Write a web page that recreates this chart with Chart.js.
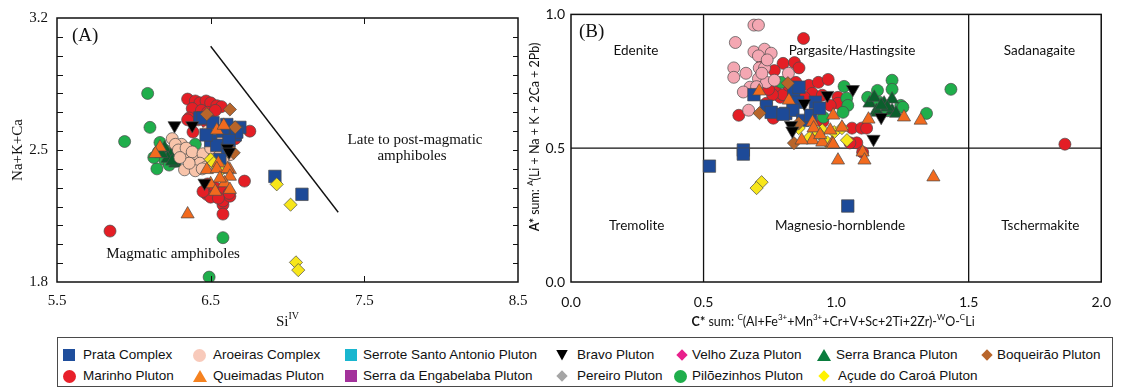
<!DOCTYPE html>
<html>
<head>
<meta charset="utf-8">
<script src="https://cdn.jsdelivr.net/npm/chart.js@4.4.1/dist/chart.umd.min.js"></script>
<style>
  html, body { margin: 0; padding: 0; background: #fff; }
  body { width: 1123px; height: 388px; position: relative; overflow: hidden; }
  canvas { position: absolute; top: 0; }
  #cA { left: 0; }
  #cB { left: 525px; }
  #legend { position: absolute; left: 57px; top: 337px; width: 1056px; height: 50px;
            border: 1.5px solid #4a4a4a; box-sizing: border-box; }
  .li { position: absolute; font: 13.5px 'Liberation Sans', Arial, sans-serif; color: #111;
        white-space: nowrap; line-height: 16px; }
  .mk { position: absolute; box-sizing: border-box; }
</style>
</head>
<body>
<canvas id="cA" width="540" height="335"></canvas>
<canvas id="cB" width="598" height="335"></canvas>
<div id="legend"></div>
<script>
// ---------- Panel A: Si(IV) vs Na+K+Ca ----------
const siTicks = [5.5, 6.5, 7.5, 8.5];
const naTicks = [1.8, 2.5, 3.2];
const naMinorTicks = [1.9, 2.0, 2.1, 2.2, 2.3, 2.4, 2.5, 2.6, 2.7, 2.8, 2.9, 3.0, 3.1];
const siInnerTicks = [6.5, 7.5];
const boundaryA = [[6.5, 3.05], [7.33, 2.17]];

const prataA = [[6.43,2.67],[6.45,2.67],[6.515,2.645],[6.605,2.635],[6.69,2.62],[6.66,2.58],[6.50,2.55],
  [6.54,2.525],[6.61,2.505],[6.56,2.45],[6.67,2.595],[6.58,2.60],[6.918,2.36],[7.094,2.265],[6.47,2.58],[6.62,2.55]];
const aroeirasA = [[6.25,2.56],[6.31,2.53],[6.35,2.47],[6.41,2.45],[6.48,2.60],[6.515,2.525],[6.625,2.475],
  [6.385,2.42],[6.33,2.395],[6.27,2.53],[6.29,2.50],[6.34,2.51],[6.38,2.49],[6.45,2.48],[6.43,2.43],[6.47,2.41],
  [6.52,2.46],[6.56,2.50],[6.60,2.52],[6.58,2.44],[6.40,2.39],[6.36,2.43],[6.30,2.46],[6.54,2.56],[6.50,2.51],[6.445,2.40]];
const bravoA = [[6.265,2.63],[6.38,2.63],[6.61,2.51],[6.46,2.325],[6.62,2.49]];
const serraBrancaA = [[6.20,2.51],[6.24,2.47],[6.27,2.43],[6.22,2.455],[6.25,2.44],[6.18,2.48]];
const boqueiraoA = [[6.625,2.715],[6.475,2.69],[6.66,2.62],[6.65,2.485]];
const marinhoA = [[6.35,2.77],[6.40,2.76],[6.43,2.75],[6.47,2.76],[6.50,2.75],[6.54,2.735],[6.57,2.73],[6.38,2.72],
  [6.44,2.71],[6.48,2.70],[6.53,2.71],[6.36,2.67],[6.42,2.66],[6.475,2.645],[6.51,2.65],[6.35,2.66],[6.385,2.595],
  [6.755,2.60],[6.72,2.335],[6.58,2.21],[6.58,2.16],[6.58,2.23],[5.845,2.07],[6.475,2.265],[6.625,2.255],[6.48,2.32],
  [6.53,2.30],[6.58,2.28],[6.62,2.27],[6.50,2.25],[6.55,2.245],[6.45,2.28],[6.60,2.60],[6.66,2.56]];
const queimadasA = [[6.17,2.515],[6.14,2.48],[6.54,2.605],[6.585,2.63],[6.55,2.43],[6.625,2.395],[6.475,2.395],
  [6.54,2.40],[6.61,2.40],[6.625,2.36],[6.50,2.32],[6.59,2.325],[6.53,2.28],[6.625,2.29],[6.35,2.16],[6.56,2.35]];
const piloezinhosA = [[6.09,2.80],[6.105,2.62],[5.94,2.545],[6.15,2.40],[6.58,2.035],[6.49,1.826],[6.17,2.54],
  [6.20,2.50],[6.16,2.49],[6.24,2.48],[6.20,2.45],[6.27,2.44],[6.23,2.42],[6.40,2.53],[6.13,2.46]];
const acudeA = [[6.93,2.318],[7.02,2.21],[7.055,1.904],[7.07,1.863],[6.575,2.40],[6.50,2.45],[6.52,2.43]];

// ---------- Panel B: C* sum vs A* sum ----------
const cTicks = [0, 0.5, 1.0, 1.5, 2.0];
const aTicks = [0, 0.5, 1.0];
const dividerV1 = [[0.5, 0], [0.5, 1]];
const dividerV2 = [[1.5, 0], [1.5, 1]];
const dividerH = [[0, 0.5], [2, 0.5]];

const prataB = [[0.69,0.70],[0.84,0.716],[0.86,0.728],[0.855,0.672],[0.737,0.657],[0.755,0.634],[0.81,0.63],
  [0.837,0.642],[0.874,0.604],[0.904,0.623],[0.922,0.672],[0.937,0.649],[0.65,0.493],[0.65,0.478],[0.522,0.433],
  [1.044,0.284],[0.80,0.627]];
const aroeirasB = [[0.69,0.96],[0.707,0.96],[0.62,0.895],[0.69,0.86],[0.73,0.87],[0.755,0.855],[0.707,0.845],
  [0.614,0.80],[0.614,0.765],[0.66,0.78],[0.71,0.80],[0.73,0.80],[0.707,0.76],[0.737,0.746],[0.767,0.754],
  [0.82,0.78],[0.675,0.728],[0.65,0.71],[0.67,0.642],[0.70,0.73],[0.74,0.83],[0.72,0.78]];
const bravoB = [[0.83,0.586],[0.835,0.565],[0.88,0.668],[0.967,0.698],[1.063,0.72],[1.141,0.534],[1.17,0.616]];
const serraBrancaB = [[1.126,0.668],[1.152,0.64],[1.181,0.668],[1.211,0.683],[1.211,0.64],[1.226,0.63],
  [1.156,0.634],[1.193,0.653],[1.144,0.69],[1.17,0.66]];
const boqueiraoB = [[0.711,0.631],[0.818,0.743],[0.859,0.593],[0.841,0.519]];
const marinhoB = [[0.877,0.91],[0.80,0.817],[0.843,0.82],[0.86,0.80],[0.767,0.79],[0.72,0.81],[0.774,0.71],
  [0.79,0.69],[0.80,0.70],[0.848,0.746],[0.897,0.735],[0.933,0.746],[0.97,0.757],[0.91,0.705],[0.948,0.698],
  [1.007,0.69],[1.007,0.668],[0.978,0.66],[0.737,0.668],[0.763,0.612],[0.633,0.623],[1.06,0.575],[1.096,0.575],
  [1.078,0.52],[1.052,0.52],[1.863,0.515],[1.115,0.575],[1.10,0.485],[0.88,0.69],[0.76,0.70],[0.82,0.735],
  [0.95,0.60],[0.745,0.72]];
const queimadasB = [[0.71,0.713],[0.822,0.679],[0.911,0.597],[0.915,0.575],[0.911,0.53],[0.948,0.522],
  [0.989,0.623],[1.022,0.578],[0.978,0.567],[0.985,0.519],[1.007,0.455],[1.10,0.485],[1.107,0.455],[1.122,0.608],
  [1.256,0.616],[1.319,0.604],[1.367,0.392],[0.989,0.515],[0.94,0.55],[0.87,0.53]];
const piloezinhosB = [[0.793,0.746],[1.03,0.731],[1.04,0.687],[1.044,0.66],[1.026,0.634],[0.952,0.616],
  [1.119,0.69],[1.156,0.716],[1.211,0.754],[1.211,0.72],[1.244,0.66],[1.341,0.63],[1.433,0.72],[1.163,0.672],
  [1.193,0.64],[1.252,0.653]];
const acudeB = [[0.719,0.373],[0.70,0.351],[0.948,0.567],[0.933,0.556],[0.967,0.522],[0.993,0.56],[1.022,0.575],
  [1.041,0.53],[0.859,0.575],[0.90,0.54]];

// ---------- Series appearance ----------
const series = {
  prata:       { name: 'Prata Complex',               shape: 'rect',    fill: '#1d4a98', key: '#1f4e9c' },
  aroeiras:    { name: 'Aroeiras Complex',            shape: 'circle',  fill: '#f8c4aa', fillB: '#f4a7b2', key: '#f8cabb' },
  serrote:     { name: 'Serrote Santo Antonio Pluton', shape: 'rect',   fill: '#19b6cf', key: '#19b6cf' },
  bravo:       { name: 'Bravo Pluton',                shape: 'triDown', fill: '#000000', key: '#000000' },
  velhoZuza:   { name: 'Velho Zuza Pluton',           shape: 'diamond', fill: '#e8208c', key: '#e8208c' },
  serraBranca: { name: 'Serra Branca Pluton',         shape: 'triangle',fill: '#0b5f2c', key: '#0a7c3e' },
  boqueirao:   { name: 'Boqueirão Pluton',            shape: 'diamond', fill: '#b8652a', key: '#b8652a' },
  marinho:     { name: 'Marinho Pluton',              shape: 'circle',  fill: '#e41e25', key: '#e8202a' },
  queimadas:   { name: 'Queimadas Pluton',            shape: 'triangle',fill: '#f26a1e', key: '#f58220' },
  engabelaba:  { name: 'Serra da Engabelaba Pluton',  shape: 'rect',    fill: '#a3329b', key: '#a3329b' },
  pereiro:     { name: 'Pereiro Pluton',              shape: 'diamond', fill: '#a5a5a5', key: '#a5a5a5' },
  piloezinhos: { name: 'Pilõezinhos Pluton',          shape: 'circle',  fill: '#1fae4b', key: '#1fae4b' },
  acude:       { name: 'Açude do Caroá Pluton',       shape: 'diamond', fill: '#f7e61a', key: '#fff200' }
};

const shapeStyle = {
  rect:     { pointStyle: 'rect',     radius: 8.8, rotation: 0 },
  circle:   { pointStyle: 'circle',   radius: 6,   rotation: 0 },
  triangle: { pointStyle: 'triangle', radius: 7.6, rotation: 0 },
  triDown:  { pointStyle: 'triangle', radius: 7.6, rotation: 180 },
  diamond:  { pointStyle: 'rectRot',  radius: 6.6, rotation: 0 }
};

function scatterSet(key, pts, z, panel) {
  const s = series[key];
  const st = shapeStyle[s.shape];
  const color = (panel === 'B' && s.fillB) ? s.fillB : s.fill;
  return {
    type: 'scatter',
    label: s.name,
    data: pts.map(([x, y]) => ({ x, y })),
    order: z,
    pointStyle: st.pointStyle,
    rotation: st.rotation,
    radius: st.radius,
    hoverRadius: st.radius,
    backgroundColor: color,
    borderColor: '#4a4a4a',
    borderWidth: 0.7
  };
}

function lineSet(pts, z, width) {
  return {
    type: 'line',
    data: pts.map(([x, y]) => ({ x, y })),
    order: z,
    borderColor: '#111',
    borderWidth: width,
    pointRadius: 0,
    fill: false,
    tension: 0
  };
}

// Draws a run of text pieces (normal / bold / superscript) centred on (x, y)
function drawRich(ctx, parts, x, y, size, family, rot) {
  ctx.save();
  ctx.translate(x, y);
  if (rot) ctx.rotate(rot);
  ctx.fillStyle = '#111';
  ctx.textBaseline = 'middle';
  ctx.textAlign = 'left';
  const fontOf = p => {
    if (p[1] === 'sup') return `${Math.round(size * 0.66)}px ${family}`;
    if (p[1] === 'b') return `bold ${size}px ${family}`;
    return `${size}px ${family}`;
  };
  let total = 0;
  const w = parts.map(p => { ctx.font = fontOf(p); const m = ctx.measureText(p[0]).width; total += m; return m; });
  let cx = -total / 2;
  parts.forEach((p, i) => {
    ctx.font = fontOf(p);
    ctx.fillText(p[0], cx, p[1] === 'sup' ? -size * 0.36 : 0);
    cx += w[i];
  });
  ctx.restore();
}

function fixedTicks(values) {
  return scale => { scale.ticks = values.map(v => ({ value: v })); };
}

const SERIF = "'Liberation Serif', 'Times New Roman', serif";
const SANS = "Lato, 'Open Sans', sans-serif";

// ---------- Panel A decorations ----------
const panelAFrame = {
  id: 'panelAFrame',
  afterDatasetsDraw(chart) {
    const { ctx, chartArea: a, scales: { x, y } } = chart;
    ctx.save();
    ctx.strokeStyle = '#111';
    ctx.lineWidth = 1.5;
    ctx.strokeRect(a.left, a.top, a.right - a.left, a.bottom - a.top);
    ctx.lineWidth = 1;
    ctx.beginPath();
    naMinorTicks.forEach(v => {
      const py = Math.round(y.getPixelForValue(v)) + 0.5;
      ctx.moveTo(a.left, py); ctx.lineTo(a.left + 6, py);
      ctx.moveTo(a.right, py); ctx.lineTo(a.right - 5, py);
    });
    siInnerTicks.forEach(v => {
      const px = Math.round(x.getPixelForValue(v)) + 0.5;
      ctx.moveTo(px, a.top); ctx.lineTo(px, a.top + 6);
      ctx.moveTo(px, a.bottom); ctx.lineTo(px, a.bottom - 6);
    });
    ctx.stroke();

    ctx.fillStyle = '#111';
    ctx.textAlign = 'left';
    ctx.textBaseline = 'middle';
    ctx.font = `19px ${SERIF}`;
    ctx.fillText('(A)', a.left + 15, a.top + 18);

    ctx.textAlign = 'center';
    ctx.font = `15px ${SERIF}`;
    ctx.fillText('Late to post-magmatic', x.getPixelForValue(7.83), y.getPixelForValue(2.552));
    ctx.fillText('amphiboles', x.getPixelForValue(7.81), y.getPixelForValue(2.468));
    ctx.fillText('Magmatic amphiboles', x.getPixelForValue(6.255), y.getPixelForValue(1.946));
    ctx.restore();

    drawRich(ctx, [['Si', ''], ['IV', 'sup']], (a.left + a.right) / 2, 322, 15, SERIF, 0);
    drawRich(ctx, [['Na+K+Ca', '']], 18, (a.top + a.bottom) / 2, 15, SERIF, -Math.PI / 2);
  }
};

new Chart(document.getElementById('cA'), {
  data: {
    datasets: [
      scatterSet('bravo', bravoA, 0),
      scatterSet('queimadas', queimadasA, 1),
      scatterSet('boqueirao', boqueiraoA, 2),
      scatterSet('acude', acudeA, 3),
      scatterSet('prata', prataA, 4),
      scatterSet('aroeiras', aroeirasA, 5),
      scatterSet('serraBranca', serraBrancaA, 6),
      scatterSet('piloezinhos', piloezinhosA, 7),
      scatterSet('marinho', marinhoA, 8),
      lineSet(boundaryA, 9, 1.4)
    ]
  },
  options: {
    responsive: false,
    animation: false,
    devicePixelRatio: 1,
    layout: { padding: { left: 0, top: 14, right: 22, bottom: 0 } },
    plugins: { legend: { display: false }, tooltip: { enabled: false } },
    scales: {
      x: {
        type: 'linear', min: 5.5, max: 8.5,
        afterBuildTicks: fixedTicks(siTicks),
        afterFit: s => { s.height = 53; },
        grid: { display: false, drawTicks: false },
        border: { display: false },
        ticks: { padding: 10, color: '#111', font: { family: SERIF, size: 15 }, callback: v => v.toFixed(1) }
      },
      y: {
        type: 'linear', min: 1.8, max: 3.2,
        afterBuildTicks: fixedTicks(naTicks),
        afterFit: s => { s.width = 57; },
        grid: { display: false, drawTicks: false },
        border: { display: false },
        ticks: { padding: 9, color: '#111', font: { family: SERIF, size: 15 }, callback: v => v.toFixed(1) }
      }
    }
  },
  plugins: [panelAFrame]
});

// ---------- Panel B decorations ----------
const panelBFrame = {
  id: 'panelBFrame',
  afterDatasetsDraw(chart) {
    const { ctx, chartArea: a, scales: { x, y } } = chart;
    ctx.save();
    ctx.strokeStyle = '#111';
    ctx.lineWidth = 1.5;
    ctx.strokeRect(a.left, a.top, a.right - a.left, a.bottom - a.top);

    ctx.fillStyle = '#111';
    ctx.textAlign = 'left';
    ctx.textBaseline = 'middle';
    ctx.font = `19px ${SERIF}`;
    ctx.fillText('(B)', a.left + 8, a.top + 18);

    ctx.textAlign = 'center';
    ctx.font = `13.5px ${SANS}`;
    const top = 0.866, bottom = 0.209;
    ctx.fillText('Edenite', x.getPixelForValue(0.245), y.getPixelForValue(top));
    ctx.fillText('Pargasite/Hastingsite', x.getPixelForValue(1.06), y.getPixelForValue(top));
    ctx.fillText('Sadanagaite', x.getPixelForValue(1.767), y.getPixelForValue(top));
    ctx.fillText('Tremolite', x.getPixelForValue(0.248), y.getPixelForValue(bottom));
    ctx.fillText('Magnesio-hornblende', x.getPixelForValue(1.015), y.getPixelForValue(bottom));
    ctx.fillText('Tschermakite', x.getPixelForValue(1.77), y.getPixelForValue(bottom));
    ctx.restore();

    drawRich(ctx, [['C*', 'b'], [' sum: ', ''], ['C', 'sup'], ['(Al+Fe', ''], ['3+', 'sup'], ['+Mn', ''], ['3+', 'sup'],
      ['+Cr+V+Sc+2Ti+2Zr)-', ''], ['W', 'sup'], ['O-', ''], ['C', 'sup'], ['Li', '']],
      (a.left + a.right) / 2 - 3, 322, 12.5, SANS, 0);
    drawRich(ctx, [['A*', 'b'], [' sum: ', ''], ['A', 'sup'], ['(Li + Na + K + 2Ca + 2Pb)', '']],
      10, 137, 12.5, SANS, -Math.PI / 2);
  }
};

new Chart(document.getElementById('cB'), {
  data: {
    datasets: [
      scatterSet('bravo', bravoB, 0, 'B'),
      scatterSet('queimadas', queimadasB, 1, 'B'),
      scatterSet('boqueirao', boqueiraoB, 2, 'B'),
      scatterSet('acude', acudeB, 3, 'B'),
      scatterSet('prata', prataB, 4, 'B'),
      scatterSet('aroeiras', aroeirasB, 5, 'B'),
      scatterSet('serraBranca', serraBrancaB, 6, 'B'),
      scatterSet('piloezinhos', piloezinhosB, 7, 'B'),
      scatterSet('marinho', marinhoB, 8, 'B'),
      lineSet(dividerV1, 9, 1.3),
      lineSet(dividerV2, 9, 1.3),
      lineSet(dividerH, 9, 1.3)
    ]
  },
  options: {
    responsive: false,
    animation: false,
    devicePixelRatio: 1,
    layout: { padding: { left: 0, top: 14, right: 12, bottom: 0 } },
    plugins: { legend: { display: false }, tooltip: { enabled: false } },
    scales: {
      x: {
        type: 'linear', min: 0, max: 2,
        afterBuildTicks: fixedTicks(cTicks),
        afterFit: s => { s.height = 53; },
        grid: { display: false, drawTicks: false },
        border: { display: false },
        ticks: { padding: 12, color: '#111', font: { family: SANS, size: 14 }, callback: v => v.toFixed(1) }
      },
      y: {
        type: 'linear', min: 0, max: 1,
        afterBuildTicks: fixedTicks(aTicks),
        afterFit: s => { s.width = 46; },
        grid: { display: false, drawTicks: false },
        border: { display: false },
        ticks: { padding: 6, color: '#111', font: { family: SANS, size: 14 }, callback: v => v.toFixed(1) }
      }
    }
  },
  plugins: [panelBFrame]
});

// ---------- Shared legend ----------
const legendRow1 = ['prata', 'aroeiras', 'serrote', 'bravo', 'velhoZuza', 'serraBranca', 'boqueirao'];
const legendRow2 = ['marinho', 'queimadas', 'engabelaba', 'pereiro', 'piloezinhos', 'acude'];
const legendCols1 = [[69, 83], [199, 213], [351, 363], [562, 577], [682, 692], [824, 836], [987, 997]];
const legendCols2 = [[69, 83], [200, 213], [351, 363], [562, 577], [680, 692], [824, 838]];
const legendRowY = [355, 376];

function addKey(key, mx, tx, cy) {
  const s = series[key];
  const m = document.createElement('div');
  m.className = 'mk';
  let w = 12, h = 12, css = '';
  if (s.shape === 'circle') { w = 13; h = 13; css = 'border-radius:50%;'; }
  else if (s.shape === 'triangle') { w = 14; h = 12; css = 'clip-path:polygon(50% 0,100% 100%,0 100%);'; }
  else if (s.shape === 'triDown') { w = 12; h = 11; css = 'clip-path:polygon(0 0,100% 0,50% 100%);'; }
  else if (s.shape === 'diamond') { w = 8; h = 8; css = 'transform:rotate(45deg);'; }
  m.style.cssText = `left:${mx - w / 2}px;top:${cy - h / 2}px;width:${w}px;height:${h}px;background:${s.key};${css}`;
  document.body.appendChild(m);
  const t = document.createElement('div');
  t.className = 'li';
  t.textContent = s.name;
  t.style.left = tx + 'px';
  t.style.top = (cy - 8) + 'px';
  document.body.appendChild(t);
}
legendRow1.forEach((k, i) => addKey(k, legendCols1[i][0], legendCols1[i][1], legendRowY[0]));
legendRow2.forEach((k, i) => addKey(k, legendCols2[i][0], legendCols2[i][1], legendRowY[1]));
</script>
</body>
</html>
